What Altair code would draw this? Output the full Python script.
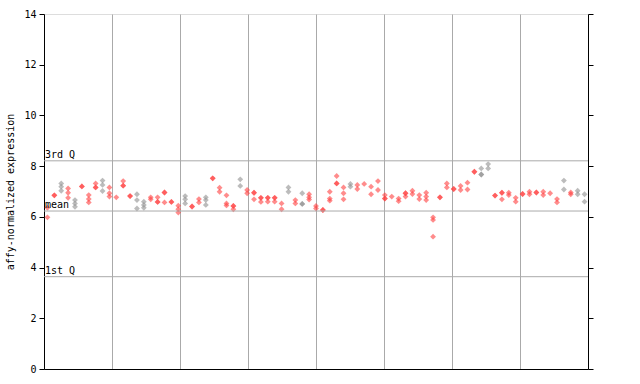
import altair as alt
import pandas as pd

# expression values per sample column (left to right); repeated values are overlapping points
col_values = [
    [6.36, 5.98], [6.85, 6.85], [7.32, 7.19, 7.03], [7.12, 6.95, 6.75], [6.66, 6.53, 6.40],
    [7.20, 7.20], [6.86, 6.70, 6.57], [7.32, 7.16, 7.16], [7.43, 7.26, 7.02], [7.16, 6.93, 6.80],
    [6.77], [7.41, 7.23, 7.23], [6.82, 6.82], [6.89, 6.66, 6.33], [6.60, 6.47, 6.36],
    [6.77, 6.69], [6.77, 6.59, 6.59], [6.96, 6.96, 6.57], [6.59, 6.59], [6.44, 6.30, 6.17],
    [6.82, 6.69, 6.53], [6.41, 6.41], [6.70, 6.57], [6.77, 6.66, 6.47], [7.52, 7.52],
    [7.15, 6.99], [6.85, 6.53, 6.45], [6.43, 6.43, 6.30], [7.48, 7.22], [7.06, 6.93],
    [6.95, 6.95, 6.69], [6.75, 6.75, 6.59], [6.75, 6.75, 6.60], [6.75, 6.75, 6.60], [6.53, 6.30],
    [7.16, 6.99], [6.66, 6.53], [6.93, 6.51, 6.51], [6.89, 6.77, 6.68], [6.43, 6.33],
    [6.27, 6.27], [6.99, 6.72, 6.64], [7.61, 7.32, 7.32], [7.16, 6.93, 6.69], [7.30, 7.19],
    [7.26, 7.10], [7.30], [7.19, 6.89], [7.41, 7.06], [6.86, 6.72, 6.72],
    [6.80], [6.72, 6.62], [6.93, 6.93, 6.80], [7.03, 6.90], [6.86, 6.70],
    [6.95, 6.80, 6.66], [5.98, 5.88, 5.22], [6.77, 6.77], [7.32, 7.16], [7.10, 7.10],
    [7.22, 7.06], [7.35, 7.08], [7.78, 7.78], [7.91, 7.67, 7.67], [8.08, 7.91],
    [6.84, 6.84], [6.95, 6.95, 6.69], [6.95, 6.86], [6.75, 6.60], [6.90, 6.90],
    [6.99, 6.89], [6.96, 6.96], [6.99, 6.86], [6.93], [6.70, 6.57],
    [7.43, 7.08], [6.96, 6.89], [7.03, 6.89], [6.89, 6.60],
]
gray_columns = [2, 4, 8, 13, 14, 20, 23, 28, 35, 37, 44, 63, 64, 75, 77, 78]

quantile_names = ["3rd Q", "mean", "1st Q"]
quantile_values = [8.21, 6.23, 3.64]
y_ticks = [0, 2, 4, 6, 8, 10, 12, 14]

n_cols = len(col_values)
rows = []
for i, vals in enumerate(col_values):
    for v in vals:
        rows.append({"pos": i + 0.5, "value": v, "grp": "g" if i in gray_columns else "r"})
df = pd.DataFrame(rows)
qdf = pd.DataFrame({"name": quantile_names, "value": quantile_values})

grid_vals = [n_cols * k / 8 for k in range(1, 8)]

xscale = alt.Scale(domain=[0, n_cols], nice=False, zero=False)
yscale = alt.Scale(domain=[0, 14], nice=False, zero=True)
FONT = "DejaVu Sans Mono"

points = alt.Chart(df).mark_point(shape="diamond", filled=True, size=34, opacity=0.6, strokeWidth=0).encode(
    x=alt.X("pos:Q", scale=xscale,
            axis=alt.Axis(values=grid_vals, labels=False, ticks=False, title=None, grid=True,
                          gridColor="#aaaaaa", gridWidth=1, domainColor="black", domainWidth=1)),
    y=alt.Y("value:Q", scale=yscale,
            axis=alt.Axis(values=y_ticks, grid=False, title="affy-normalized expression",
                          titleFont=FONT, titleFontSize=10, titleFontWeight="normal", titleColor="black",
                          titlePadding=8, labelFont=FONT, labelFontSize=10, labelColor="black",
                          tickSize=5, tickColor="black", domainColor="black", labelPadding=3)),
    color=alt.Color("grp:N", scale=alt.Scale(domain=["r", "g"], range=["#ff4040", "#909090"]), legend=None),
)

rules = alt.Chart(qdf).mark_rule(color="#aaaaaa", strokeWidth=1).encode(
    y=alt.Y("value:Q", scale=yscale, axis=None)
)

labels = alt.Chart(qdf).mark_text(align="left", baseline="bottom", dy=-1, font=FONT, fontSize=10, color="black").encode(
    x=alt.value(1),
    y=alt.Y("value:Q", scale=yscale, axis=None),
    text="name:N",
)

right_axis = alt.Chart(qdf).mark_rule(opacity=0).encode(
    y=alt.Y("value:Q", scale=yscale,
            axis=alt.Axis(orient="right", values=y_ticks, labels=False, title=None, grid=False,
                          tickSize=5, tickColor="black", domainColor="black")),
)

chart = alt.layer(points, rules, labels, right_axis).resolve_axis(y="independent").properties(
    width=544, height=355,
    autosize=alt.AutoSizeParams(type="none"),
    padding={"left": 44, "top": 14, "right": 8, "bottom": 15},
).configure_view(stroke=None).configure(background="white")

chart.save("out.html", embed_options={"renderer": "svg", "actions": False})
